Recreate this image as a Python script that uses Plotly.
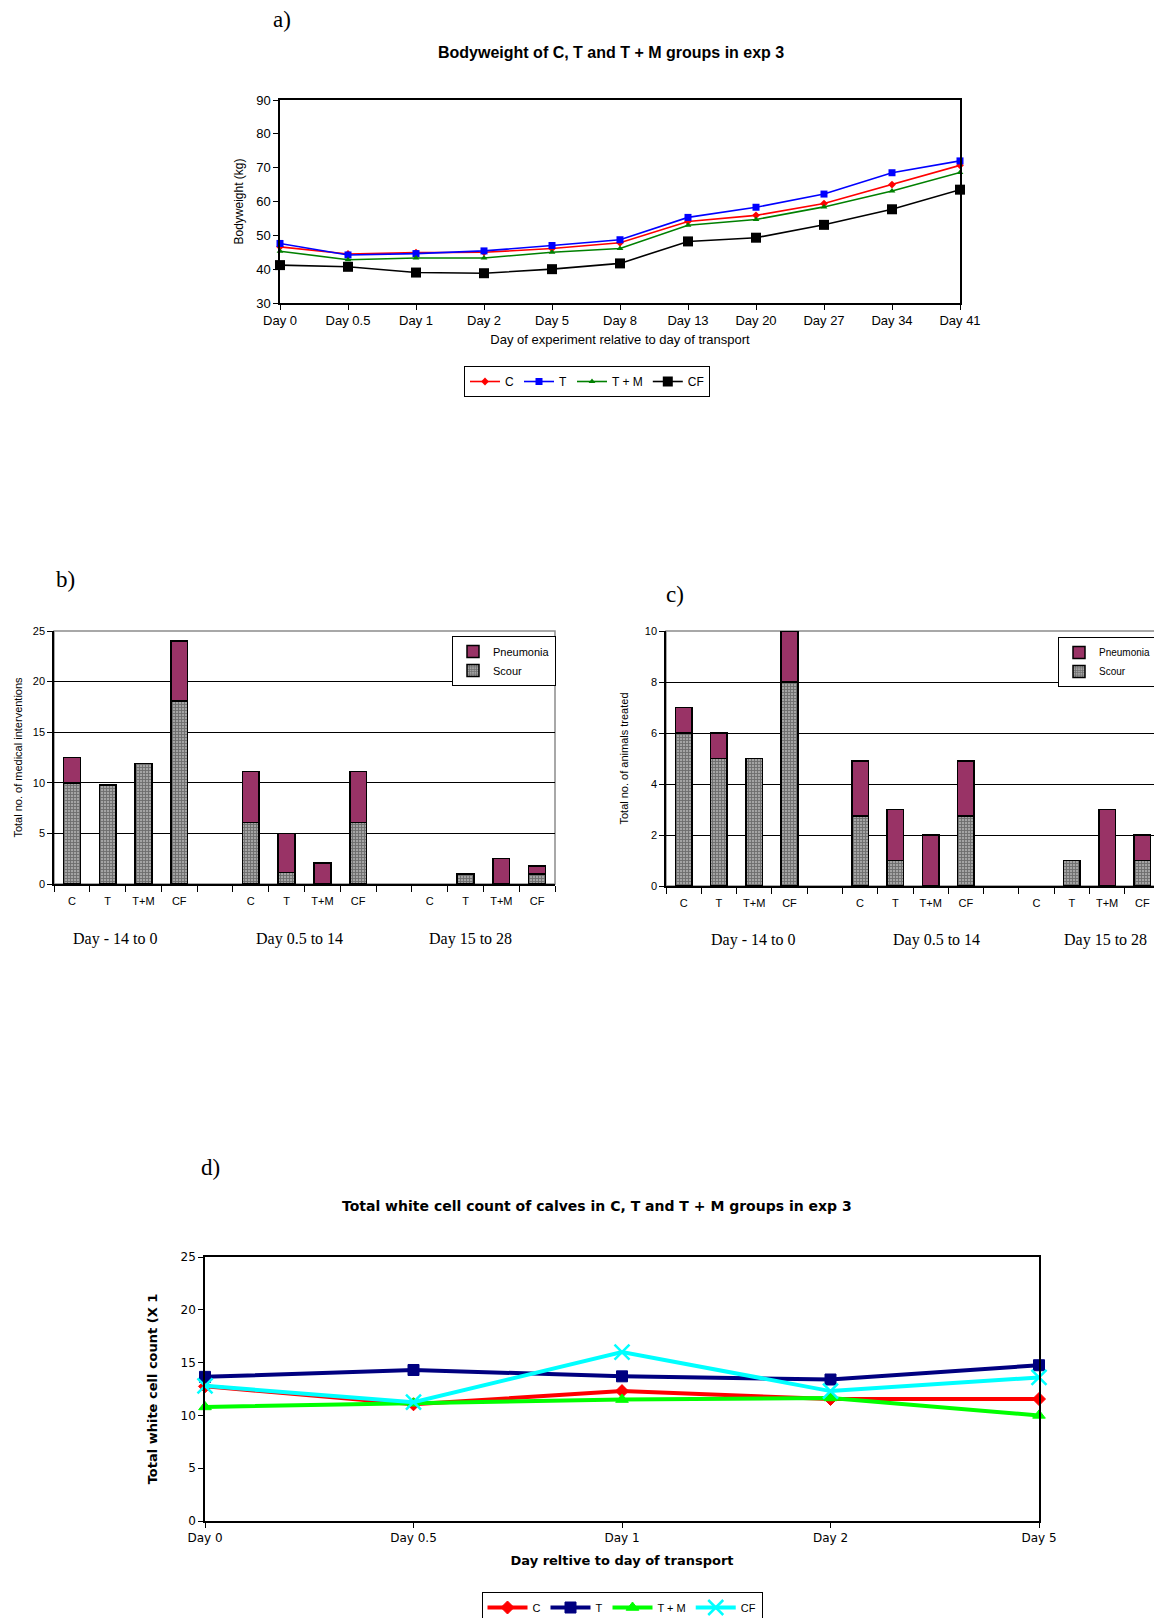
import plotly.graph_objects as go

# ---------------- DATA ----------------
# (a) Bodyweight
days_a = ["Day 0", "Day 0.5", "Day 1", "Day 2", "Day 5", "Day 8", "Day 13", "Day 20", "Day 27", "Day 34", "Day 41"]
bw_C = [46.6, 44.5, 44.9, 45.0, 46.1, 47.8, 54.1, 55.9, 59.4, 65.0, 70.7]
bw_T = [47.6, 44.2, 44.6, 45.4, 47.0, 48.7, 55.3, 58.3, 62.2, 68.5, 72.0]
bw_TM = [45.3, 42.8, 43.3, 43.3, 45.0, 46.1, 53.0, 54.7, 58.4, 63.1, 68.6]
bw_CF = [41.2, 40.7, 39.0, 38.8, 40.0, 41.7, 48.2, 49.3, 53.1, 57.7, 63.5]

# (b) and (c) medical interventions / animals treated
groups = ["Day - 14 to 0", "Day 0.5 to 14", "Day 15 to 28"]
bar_cats = ["C", "T", "T+M", "CF"]
b_scour = [[10.0, 9.8, 11.9, 18.1], [6.1, 1.15, 0, 6.1], [0, 1.0, 0, 1.0]]
b_pneu = [[2.5, 0, 0, 5.9], [5.0, 3.85, 2.1, 5.0], [0, 0, 2.5, 0.8]]
c_scour = [[6, 5, 5, 8], [2.75, 1, 0, 2.75], [0, 1, 0, 1]]
c_pneu = [[1, 1, 0, 2], [2.15, 2, 2, 2.15], [0, 0, 3, 1]]

# (d) Total white cell count
days_d = ["Day 0", "Day 0.5", "Day 1", "Day 2", "Day 5"]
wbc_C = [12.75, 11.05, 12.3, 11.55, 11.55]
wbc_T = [13.65, 14.3, 13.7, 13.4, 14.75]
wbc_TM = [10.8, 11.15, 11.5, 11.65, 10.0]
wbc_CF = [12.8, 11.25, 16.0, 12.3, 13.6]

# ---------------- LAYOUT HELPERS ----------------
PAGE_W, PAGE_H = 1162, 1618
OFF = 8                     # default page body margin
W, H = PAGE_W - OFF, PAGE_H - OFF
def px_x(p): return (p - OFF) / W
def px_y(p): return 1 - (p - OFF) / H

SANS = "Liberation Sans, Arial, sans-serif"
NARROW = "Liberation Sans Narrow, Liberation Sans, Arial, sans-serif"
SERIF = "Liberation Serif, Times New Roman, serif"
WIDE = "DejaVu Sans, sans-serif"

fig = go.Figure()

# ---------------- (a) ----------------
series_a = [
    ("C", bw_C, "#FF0000", "diamond", 6),
    ("T", bw_T, "#0000FF", "square", 7),
    ("T + M", bw_TM, "#008000", "triangle-up", 6),
    ("CF", bw_CF, "#000000", "square", 10),
]
for name, vals, col, sym, sz in series_a:
    fig.add_trace(go.Scatter(
        x=days_a, y=vals, name=name, mode="lines+markers",
        line=dict(color=col, width=1.6),
        marker=dict(symbol=sym, size=sz, color=col),
        xaxis="x", yaxis="y", legend="legend", cliponaxis=False))

# ---------------- (b) and (c) ----------------
slot_ids, slot_labels = [], []
for gi, g in enumerate(groups):
    for c in bar_cats:
        slot_ids.append(f"{gi}|{c}")
        slot_labels.append(c)
    if gi < len(groups) - 1:
        slot_ids.append(f"gap{gi}")
        slot_labels.append(" ")

def bar_ids():
    return [f"{gi}|{c}" for gi in range(len(groups)) for c in bar_cats]

def flat(v):
    # zero-height segments are not drawn (no outline at the baseline)
    return [x if x else None for row in v for x in row]

scour_marker = dict(color="#8a8a8a",
                    pattern=dict(shape="+", fgcolor="#333333", bgcolor="#a4a4a4", size=3, solidity=0.5),
                    line=dict(color="black", width=1.5))
pneu_marker = dict(color="#993366", line=dict(color="black", width=1.5))

for xa, ya, lg, scour, pneu in [("x2", "y2", "legend2", b_scour, b_pneu),
                                 ("x3", "y3", "legend3", c_scour, c_pneu)]:
    fig.add_trace(go.Bar(x=bar_ids(), y=flat(scour), name="Scour", marker=scour_marker,
                         xaxis=xa, yaxis=ya, legend=lg))
    fig.add_trace(go.Bar(x=bar_ids(), y=flat(pneu), name="Pneumonia", marker=pneu_marker,
                         xaxis=xa, yaxis=ya, legend=lg))

# ---------------- (d) ----------------
series_d = [
    ("C", wbc_C, "#FF0000", "diamond", 10, 1),
    ("T", wbc_T, "#000080", "square", 11, 1),
    ("T + M", wbc_TM, "#00FF00", "triangle-up", 11, 1),
    ("CF", wbc_CF, "#00FFFF", "x-thin-open", 15, 2.5),
]
for name, vals, col, sym, sz, lw in series_d:
    fig.add_trace(go.Scatter(
        x=days_d, y=vals, name=name, mode="lines+markers",
        line=dict(color=col, width=4),
        marker=dict(symbol=sym, size=sz, color=col, line=dict(color=col, width=lw)),
        xaxis="x4", yaxis="y4", legend="legend4", cliponaxis=False))

# ---------------- AXES ----------------
tick_font_a = dict(family=NARROW, size=13, color="black")
fig.update_layout(
    xaxis=dict(domain=[px_x(280), px_x(960)], anchor="y", type="category",
               range=[0, len(days_a) - 1], showline=True, linecolor="black", linewidth=1.5,
               mirror=True, ticks="outside", ticklen=5, tickcolor="black", tickfont=tick_font_a,
               showgrid=False, zeroline=False, automargin=False,
               title=dict(text="Day of experiment relative to day of transport",
                          font=dict(family=NARROW, size=13, color="black"), standoff=8)),
    yaxis=dict(domain=[px_y(303), px_y(100)], anchor="x", range=[30, 90], dtick=10,
               showline=True, linecolor="black", linewidth=1.5, mirror=True,
               ticks="outside", ticklen=5, tickcolor="black", tickfont=tick_font_a,
               showgrid=False, zeroline=False, automargin=False,
               title=dict(text="Bodyweight (kg)", font=dict(family=SANS, size=12, color="black"),
                          standoff=10)),
)

def bar_axes(domx, domy, yrange, dtick, ytitle, anchor_x, anchor_y, standoff):
    xa = dict(domain=domx, anchor=anchor_y, type="category", categoryorder="array",
              categoryarray=slot_ids, tickmode="array", tickvals=slot_ids, ticktext=slot_labels,
              tickson="boundaries", range=[-0.5, len(slot_ids) - 0.5],
              showline=True, linecolor="black", linewidth=1.5, ticks="outside", ticklen=6,
              tickcolor="black", tickfont=dict(family=SANS, size=11, color="black"),
              ticklabelstandoff=6, showgrid=False, zeroline=False, automargin=False)
    ya = dict(domain=domy, anchor=anchor_x, range=yrange, dtick=dtick,
              showline=True, linecolor="black", linewidth=1.5, ticks="outside", ticklen=5,
              tickcolor="black", tickfont=dict(family=SANS, size=11, color="black"),
              showgrid=True, gridcolor="black", gridwidth=1, zeroline=False, automargin=False,
              title=dict(text=ytitle, font=dict(family=SANS, size=11, color="black"),
                         standoff=standoff))
    return xa, ya

xa2, ya2 = bar_axes([px_x(54), px_x(555)], [px_y(884), px_y(631)], [0, 25], 5,
                    "Total no. of medical interventions", "x2", "y2", 8)
xa3, ya3 = bar_axes([px_x(666), px_x(1160)], [px_y(886), px_y(631)], [0, 10], 2,
                    "Total no. of animals treated", "x3", "y3", 14)
fig.update_layout(xaxis2=xa2, yaxis2=ya2, xaxis3=xa3, yaxis3=ya3)

tick_font_d = dict(family=WIDE, size=12, color="black")
fig.update_layout(
    xaxis4=dict(domain=[px_x(205), px_x(1039)], anchor="y4", type="category",
                range=[0, len(days_d) - 1], showline=True, linecolor="black", linewidth=1.5,
                mirror=True, ticks="outside", ticklen=5, tickcolor="black", tickfont=tick_font_d,
                showgrid=False, zeroline=False, automargin=False,
                title=dict(text="<b>Day reltive to day of transport</b>",
                           font=dict(family=WIDE, size=13, color="black"), standoff=12)),
    yaxis4=dict(domain=[px_y(1521), px_y(1257)], anchor="x4", range=[0, 25], dtick=5,
                showline=True, linecolor="black", linewidth=1.5, mirror=True,
                ticks="outside", ticklen=5, tickcolor="black", tickfont=tick_font_d,
                showgrid=False, zeroline=False, automargin=False,
                title=dict(text="<b>Total white cell count (X 1</b>",
                           font=dict(family=WIDE, size=13, color="black"), standoff=20)),
)

# ---------------- LEGENDS ----------------
fig.update_layout(
    showlegend=True,
    legend=dict(orientation="h", x=px_x(587), xanchor="center", y=px_y(366), yanchor="top",
                bordercolor="black", borderwidth=1, bgcolor="white", itemwidth=30,
                font=dict(family=NARROW, size=12, color="black"), traceorder="normal",
                tracegroupgap=0, itemsizing="trace"),
    legend2=dict(x=px_x(452), xanchor="left", y=px_y(636), yanchor="top",
                 bordercolor="black", borderwidth=1, bgcolor="white",
                 font=dict(family=SANS, size=11, color="black"), traceorder="reversed",
                 itemwidth=30),
    legend3=dict(x=px_x(1058), xanchor="left", y=px_y(637), yanchor="top",
                 bordercolor="black", borderwidth=1, bgcolor="white",
                 font=dict(family=SANS, size=10, color="black"), traceorder="reversed",
                 itemwidth=30),
    legend4=dict(orientation="h", x=px_x(622), xanchor="center", y=px_y(1592), yanchor="top",
                 bordercolor="black", borderwidth=1, bgcolor="white", itemwidth=40,
                 font=dict(family=SANS, size=11, color="black")),
)

# ---------------- ANNOTATIONS ----------------
ann = []
ann.append(dict(text="<b>Bodyweight of C, T and T + M groups in exp 3</b>", x=px_x(611), y=px_y(53),
                xref="paper", yref="paper", showarrow=False, xanchor="center", yanchor="middle",
                font=dict(family=SANS, size=16, color="black")))
ann.append(dict(text="<b>Total white cell count of calves in C, T and T + M groups in exp 3</b>",
                x=px_x(597), y=px_y(1206), xref="paper", yref="paper", showarrow=False,
                xanchor="center", yanchor="middle",
                font=dict(family=WIDE, size=14, color="black")))
for lab, xp, yp in [("a)", 282, 19), ("b)", 65, 579), ("c)", 675, 594), ("d)", 210, 1167)]:
    ann.append(dict(text=lab, x=px_x(xp), y=px_y(yp), xref="paper", yref="paper", showarrow=False,
                    xanchor="center", yanchor="middle", font=dict(family=SERIF, size=23, color="black")))
group_label_pos = {"b": ([115, 300, 470], 939), "c": ([753, 936, 1105], 940)}
for key in ["b", "c"]:
    xs, ypix = group_label_pos[key]
    for g, xp in zip(groups, xs):
        ann.append(dict(text=g, x=px_x(xp), y=px_y(ypix), xref="paper", yref="paper", showarrow=False,
                        xanchor="center", yanchor="middle",
                        font=dict(family=SERIF, size=16, color="black")))
fig.update_layout(annotations=ann)

# gray plot-area borders for the bar charts
fig.update_layout(shapes=[
    dict(type="rect", xref="x2 domain", yref="y2 domain", x0=0, x1=1, y0=0, y1=1,
         line=dict(color="#8c8c8c", width=1.5), layer="below"),
    dict(type="rect", xref="x3 domain", yref="y3 domain", x0=0, x1=1, y0=0, y1=1,
         line=dict(color="#8c8c8c", width=1.5), layer="below"),
])

fig.update_layout(width=W, height=H, margin=dict(l=0, r=0, t=0, b=0, autoexpand=False),
                  paper_bgcolor="white", plot_bgcolor="white",
                  barmode="stack", bargap=0.53, font=dict(family=SANS, color="black"))

fig.write_html("out.html")
